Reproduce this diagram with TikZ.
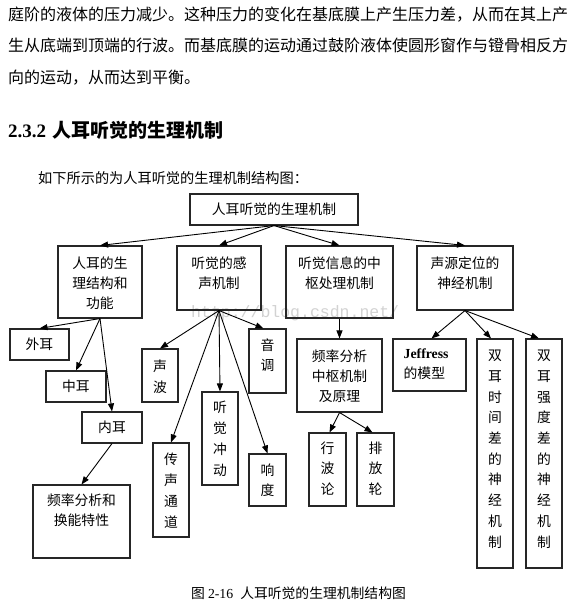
\documentclass[tikz,border=0pt]{standalone}
\usepackage{fontspec}
\setmainfont{Noto Sans CJK SC}
\newfontfamily\lat{Liberation Serif}
\newfontfamily\mono{Liberation Mono}
\usetikzlibrary{arrows.meta}
\begin{document}
\begin{tikzpicture}[x=1pt,y=-1pt,
  bx/.style={draw=black!85, line width=1.1pt, inner sep=0pt},
  lb/.style={inner sep=0pt, align=center, font=\fontsize{13.8}{20}\selectfont},
  vl/.style={inner sep=0pt, align=center, font=\fontsize{13.8}{20.7}\selectfont},
  ar/.style={-{Triangle[length=8pt,width=6pt]}, line width=0.9pt, draw=black},
  body/.style={inner sep=0pt, anchor=west, font=\fontsize{16}{20}\selectfont}]
\fill[white] (0,0) rectangle (576,603);
\useasboundingbox (0,0) rectangle (576,603);

% running text
\node[body] (l1) at (8,15) {庭阶的液体的压力减少。这种压力的变化在基底膜上产生压力差，从而在其上产};
\node[body] (l2) at (8,45) {生从底端到顶端的行波。而基底膜的运动通过鼓阶液体使圆形窗作与镫骨相反方};
\node[body] (l3) at (8,78) {向的运动，从而达到平衡。};
\node[inner sep=0pt, anchor=west, font=\fontsize{19}{20}\selectfont\bfseries] (h) at (8,130) {{\lat\bfseries 2.3.2}\hspace{6pt}人耳听觉的生理机制};
\node[inner sep=0pt, anchor=west, font=\fontsize{14.2}{20}\selectfont] (intro) at (38,178) {如下所示的为人耳听觉的生理机制结构图：};

% watermark
\node[inner sep=0pt, anchor=west, text=gray!35, font=\mono\fontsize{16.5}{16.5}\selectfont] (wm) at (191,313) {http://blog.csdn.net/};

% boxes
\node[bx, minimum width=168, minimum height=31] (T) at (274,209.5) {};
\node[lb] (Tt) at (T) {人耳听觉的生理机制};

\node[bx, minimum width=84, minimum height=72] (A) at (100,282) {};
\node[lb, anchor=north, yshift=-10.8pt] (At) at (A.north) {人耳的生\\理结构和\\功能};
\node[bx, minimum width=84, minimum height=64] (B) at (219,278) {};
\node[lb, anchor=north, yshift=-10.8pt] (Bt) at (B.north) {听觉的感\\声机制};
\node[bx, minimum width=107, minimum height=72] (C) at (339.5,282) {};
\node[lb, anchor=north, yshift=-10.8pt] (Ct) at (C.north) {听觉信息的中\\枢处理机制};
\node[bx, minimum width=96, minimum height=64] (D) at (465,278) {};
\node[lb, anchor=north, yshift=-10.8pt] (Dt) at (D.north) {声源定位的\\神经机制};

\node[bx, minimum width=59, minimum height=31] (wai) at (39.5,344.5) {};
\node[lb] (waiT) at (wai) {外耳};
\node[bx, minimum width=60, minimum height=31] (zhong) at (76,386.5) {};
\node[lb] (zhongT) at (zhong) {中耳};
\node[bx, minimum width=60, minimum height=31] (nei) at (112,427.5) {};
\node[lb] (neiT) at (nei) {内耳};
\node[bx, minimum width=97, minimum height=73] (F1) at (81.5,521.5) {};
\node[lb, anchor=north, yshift=-8.8pt] (F1t) at (F1.north) {频率分析和\\换能特性};

\node[bx, minimum width=36, minimum height=53] (sb) at (160,375.5) {};
\node[vl, anchor=north, yshift=-11.5pt] (sbt) at (sb.north) {声\\波};
\node[bx, minimum width=36, minimum height=94] (cs) at (171,490) {};
\node[vl, anchor=north, yshift=-10.8pt] (cst) at (cs.north) {传\\声\\通\\道};
\node[bx, minimum width=36, minimum height=93] (tj) at (220,438.5) {};
\node[vl, anchor=north, yshift=-9.8pt] (tjt) at (tj.north) {听\\觉\\冲\\动};
\node[bx, minimum width=37, minimum height=52] (xd) at (267.5,480) {};
\node[vl, anchor=north, yshift=-9.8pt] (xdt) at (xd.north) {响\\度};
\node[bx, minimum width=37, minimum height=64] (yd) at (267.5,361) {};
\node[vl, anchor=north, yshift=-9.8pt] (ydt) at (yd.north) {音\\调};

\node[bx, minimum width=85, minimum height=73] (F2) at (339.5,375.5) {};
\node[lb, anchor=north, yshift=-11.5pt] (F2t) at (F2.north) {频率分析\\中枢机制\\及原理};
\node[bx, minimum width=37, minimum height=73] (xb) at (327.5,469.5) {};
\node[vl, anchor=north, yshift=-8.8pt] (xbt) at (xb.north) {行\\波\\论};
\node[bx, minimum width=37, minimum height=73] (pf) at (375.5,469.5) {};
\node[vl, anchor=north, yshift=-8.8pt] (pft) at (pf.north) {排\\放\\轮};

\node[bx, minimum width=73, minimum height=52] (J) at (429.5,365) {};
\node[lb, align=left, anchor=north west, xshift=11pt, yshift=-10.5pt] (Jt) at (J.north west) {{\lat\bfseries Jeffress}\\的模型};
\node[bx, minimum width=36, minimum height=229] (s1) at (495,453.5) {};
\node[vl, anchor=north, yshift=-11.5pt] (s1t) at (s1.north) {双\\耳\\时\\间\\差\\的\\神\\经\\机\\制};
\node[bx, minimum width=36, minimum height=229] (s2) at (544,453.5) {};
\node[vl, anchor=north, yshift=-11.5pt] (s2t) at (s2.north) {双\\耳\\强\\度\\差\\的\\神\\经\\机\\制};

% connectors
\draw[ar] (T.south) -- (A.north);
\draw[ar] (T.south) -- (B.north);
\draw[ar] (T.south) -- (C.north);
\draw[ar] (T.south) -- (D.north);
\draw[ar] (A.south) -- (wai.north);
\draw[ar] (A.south) -- (zhong.north);
\draw[ar] (A.south) -- (nei.north);
\draw[ar] (nei.south) -- (F1.north);
\draw[ar] (B.south) -- (sb.north);
\draw[ar] (B.south) -- (cs.north);
\draw[ar] (B.south) -- (tj.north);
\draw[ar] (B.south) -- (xd.north);
\draw[ar] (B.south) -- ([xshift=-4pt]yd.north);
\draw[ar] (C.south) -- (F2.north);
\draw[ar] (F2.south) -- ([xshift=2pt]xb.north);
\draw[ar] (F2.south) -- ([xshift=-3pt]pf.north);
\draw[ar] (D.south) -- ([xshift=2pt]J.north);
\draw[ar] (D.south) -- ([xshift=-4pt]s1.north);
\draw[ar] (D.south) -- ([xshift=-5pt]s2.north);

% caption
\node[inner sep=0pt, anchor=west, font=\fontsize{13.8}{20}\selectfont] (cap) at (191,593) {图\hspace{3pt}{\lat 2-16}\hspace{7pt}人耳听觉的生理机制结构图};
\end{tikzpicture}
\end{document}
